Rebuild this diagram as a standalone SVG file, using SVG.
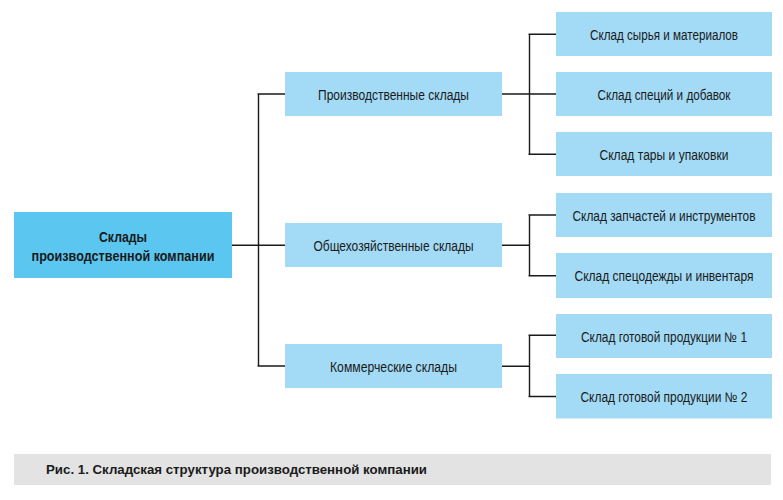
<svg xmlns="http://www.w3.org/2000/svg" width="783" height="500" viewBox="0 0 783 500">
<style>
.root{fill:#5bc7f1}
.box{fill:#a3dbf6}
.t{font-family:"Liberation Sans Narrow","Liberation Sans",Arial,sans-serif;font-size:14px;fill:#1a1a1a;text-anchor:middle}
.b{font-weight:bold;font-size:15.5px}
.c{font-family:"Liberation Sans Narrow","Liberation Sans",Arial,sans-serif;font-size:13.5px;font-weight:bold;fill:#1a1a1a}
.ln{stroke:#1a1a1a;stroke-width:1.4;fill:none}
</style>
<rect x="0" y="0" width="783" height="500" fill="#ffffff"/>
<g id="connectors" class="ln">
<path d="M232 245.3H285M258.5 93.5V366.5M257.5 94H285M257.5 366H285"/>
<path d="M502 94H556M529.5 34V154.5M528.5 34.2H556M528.5 154.3H556"/>
<path d="M502 245.3H529.5M529.5 215V275.7M528.5 215H556M528.5 275.7H556"/>
<path d="M502 366.3H529.5M529.5 335.3V396.7M528.5 335.3H556M528.5 396.5H556"/>
</g>
<g id="root">
<rect class="root" x="14" y="212" width="218" height="66"/>
<text class="t b" x="123" y="241.5" textLength="48" lengthAdjust="spacingAndGlyphs">Склады</text>
<text class="t b" x="123" y="260.5" textLength="183" lengthAdjust="spacingAndGlyphs">производственной компании</text>
</g>
<g id="prod">
<rect class="box" x="285" y="72" width="217" height="44"/>
<text class="t" x="393.5" y="100" textLength="151" lengthAdjust="spacingAndGlyphs">Производственные склады</text>
</g>
<g id="general">
<rect class="box" x="285" y="223" width="217" height="44"/>
<text class="t" x="393.5" y="251" textLength="160" lengthAdjust="spacingAndGlyphs">Общехозяйственные склады</text>
</g>
<g id="commercial">
<rect class="box" x="285" y="344" width="217" height="44"/>
<text class="t" x="393.5" y="372" textLength="127" lengthAdjust="spacingAndGlyphs">Коммерческие склады</text>
</g>
<g id="raw">
<rect class="box" x="556" y="12" width="216" height="44"/>
<text class="t" x="664" y="39.5" textLength="148" lengthAdjust="spacingAndGlyphs">Склад сырья и материалов</text>
</g>
<g id="spices">
<rect class="box" x="556" y="72" width="216" height="44"/>
<text class="t" x="664" y="99.5" textLength="133" lengthAdjust="spacingAndGlyphs">Склад специй и добавок</text>
</g>
<g id="pack">
<rect class="box" x="556" y="132" width="216" height="44"/>
<text class="t" x="664" y="159.5" textLength="129" lengthAdjust="spacingAndGlyphs">Склад тары и упаковки</text>
</g>
<g id="parts">
<rect class="box" x="556" y="193" width="216" height="44"/>
<text class="t" x="664" y="220.5" textLength="183" lengthAdjust="spacingAndGlyphs">Склад запчастей и инструментов</text>
</g>
<g id="workwear">
<rect class="box" x="556" y="253" width="216" height="45"/>
<text class="t" x="664" y="280.5" textLength="179" lengthAdjust="spacingAndGlyphs">Склад спецодежды и инвентаря</text>
</g>
<g id="finished1">
<rect class="box" x="556" y="314" width="216" height="44"/>
<text class="t" x="664" y="341.5" textLength="166" lengthAdjust="spacingAndGlyphs">Склад готовой продукции № 1</text>
</g>
<g id="finished2">
<rect class="box" x="556" y="374" width="216" height="44.5"/>
<text class="t" x="664" y="401.5" textLength="167" lengthAdjust="spacingAndGlyphs">Склад готовой продукции № 2</text>
</g>
<g id="caption">
<rect x="14" y="454" width="757" height="31" fill="#e3e3e3"/>
<text class="c" x="46" y="474" textLength="381" lengthAdjust="spacingAndGlyphs">Рис. 1. Складская структура производственной компании</text>
</g>
</svg>
